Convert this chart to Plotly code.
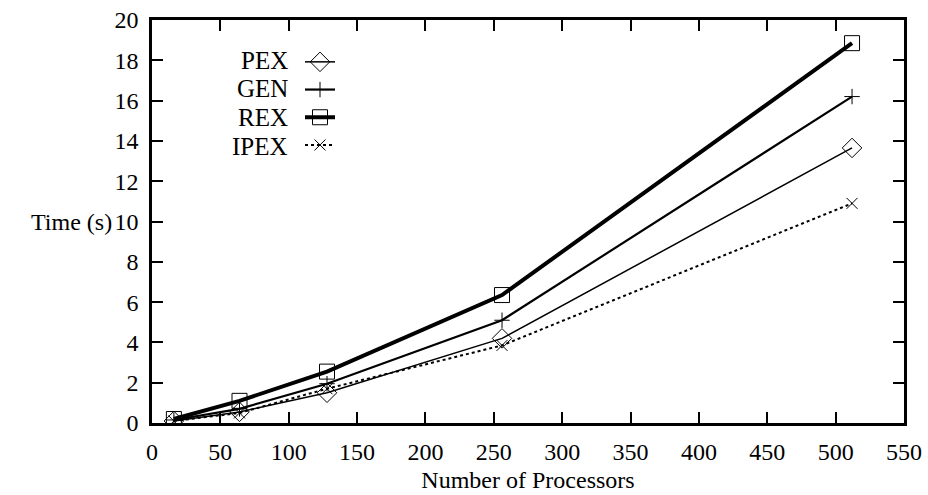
import plotly.graph_objects as go

processors = [16, 64, 128, 256, 512]
pex = [0.1, 0.55, 1.5, 4.2, 13.65]
gen = [0.15, 0.7, 1.95, 5.1, 16.2]
rex = [0.2, 1.1, 2.55, 6.35, 18.85]
ipex = [0.1, 0.5, 1.7, 3.85, 10.9]
labels = ["PEX", "GEN", "REX", "IPEX"]
x_ticks = list(range(0, 551, 50))
y_ticks = list(range(0, 21, 2))

FONT = "Liberation Serif, Times New Roman, Times, DejaVu Serif, serif"
W, H = 928, 495
L, R, T, B = 152, 24, 20, 72

series = [
    (labels[0], pex, dict(width=1.5, dash="solid"), dict(symbol="diamond-open", size=15)),
    (labels[1], gen, dict(width=2.2, dash="solid"), dict(symbol="cross-thin-open", size=11)),
    (labels[2], rex, dict(width=4, dash="solid"), dict(symbol="square-open", size=15)),
    (labels[3], ipex, dict(width=2, dash="dot"), dict(symbol="x-thin-open", size=11)),
]

fig = go.Figure()
for name, vals, line, marker in series:
    fig.add_trace(go.Scatter(
        x=processors, y=vals, mode="lines+markers", name=" ",
        line=dict(color="black", **line),
        marker=dict(color="black", line=dict(color="#333", width=1), **marker),
        hovertext=[name] * len(vals),
    ))

ph = H - T - B
pw = W - L - R
row_px = [60, 89, 117, 146]
for lab, py in zip(labels, row_px):
    fig.add_annotation(text=lab, xref="paper", yref="paper",
                       x=(290 - L) / pw, y=(H - B - py) / ph,
                       xanchor="right", yanchor="middle", showarrow=False,
                       font=dict(family=FONT, size=25, color="black"))

fig.add_annotation(text="Time (s)", xref="paper", yref="y", x=(114 - L) / pw, y=10,
                   xanchor="right", yanchor="middle", showarrow=False,
                   font=dict(family=FONT, size=24, color="black"))

axis_common = dict(
    showgrid=False, zeroline=False, showline=True, linecolor="black", linewidth=2.5,
    mirror="ticks", ticks="inside", ticklen=11, tickwidth=1.5, tickcolor="black",
    tickfont=dict(family=FONT, size=24, color="black"), automargin=False,
)

fig.update_layout(
    width=W, height=H, margin=dict(l=L, r=R, t=T, b=B),
    paper_bgcolor="white", plot_bgcolor="white",
    font=dict(family=FONT, size=24, color="black"),
    xaxis=dict(range=[0, 550], tickvals=x_ticks, ticklabelstandoff=5,
               title=dict(text="Number of Processors", standoff=8,
                          font=dict(family=FONT, size=24)), **axis_common),
    yaxis=dict(range=[0, 20], tickvals=y_ticks, ticklabelstandoff=6, **axis_common),
    showlegend=True,
    legend=dict(x=(300 - L) / pw, y=(H - B - 43) / ph, xanchor="left", yanchor="top",
                bgcolor="rgba(0,0,0,0)", font=dict(family=FONT, size=19),
                itemwidth=30, tracegroupgap=0),
)

fig.write_html("out.html")
